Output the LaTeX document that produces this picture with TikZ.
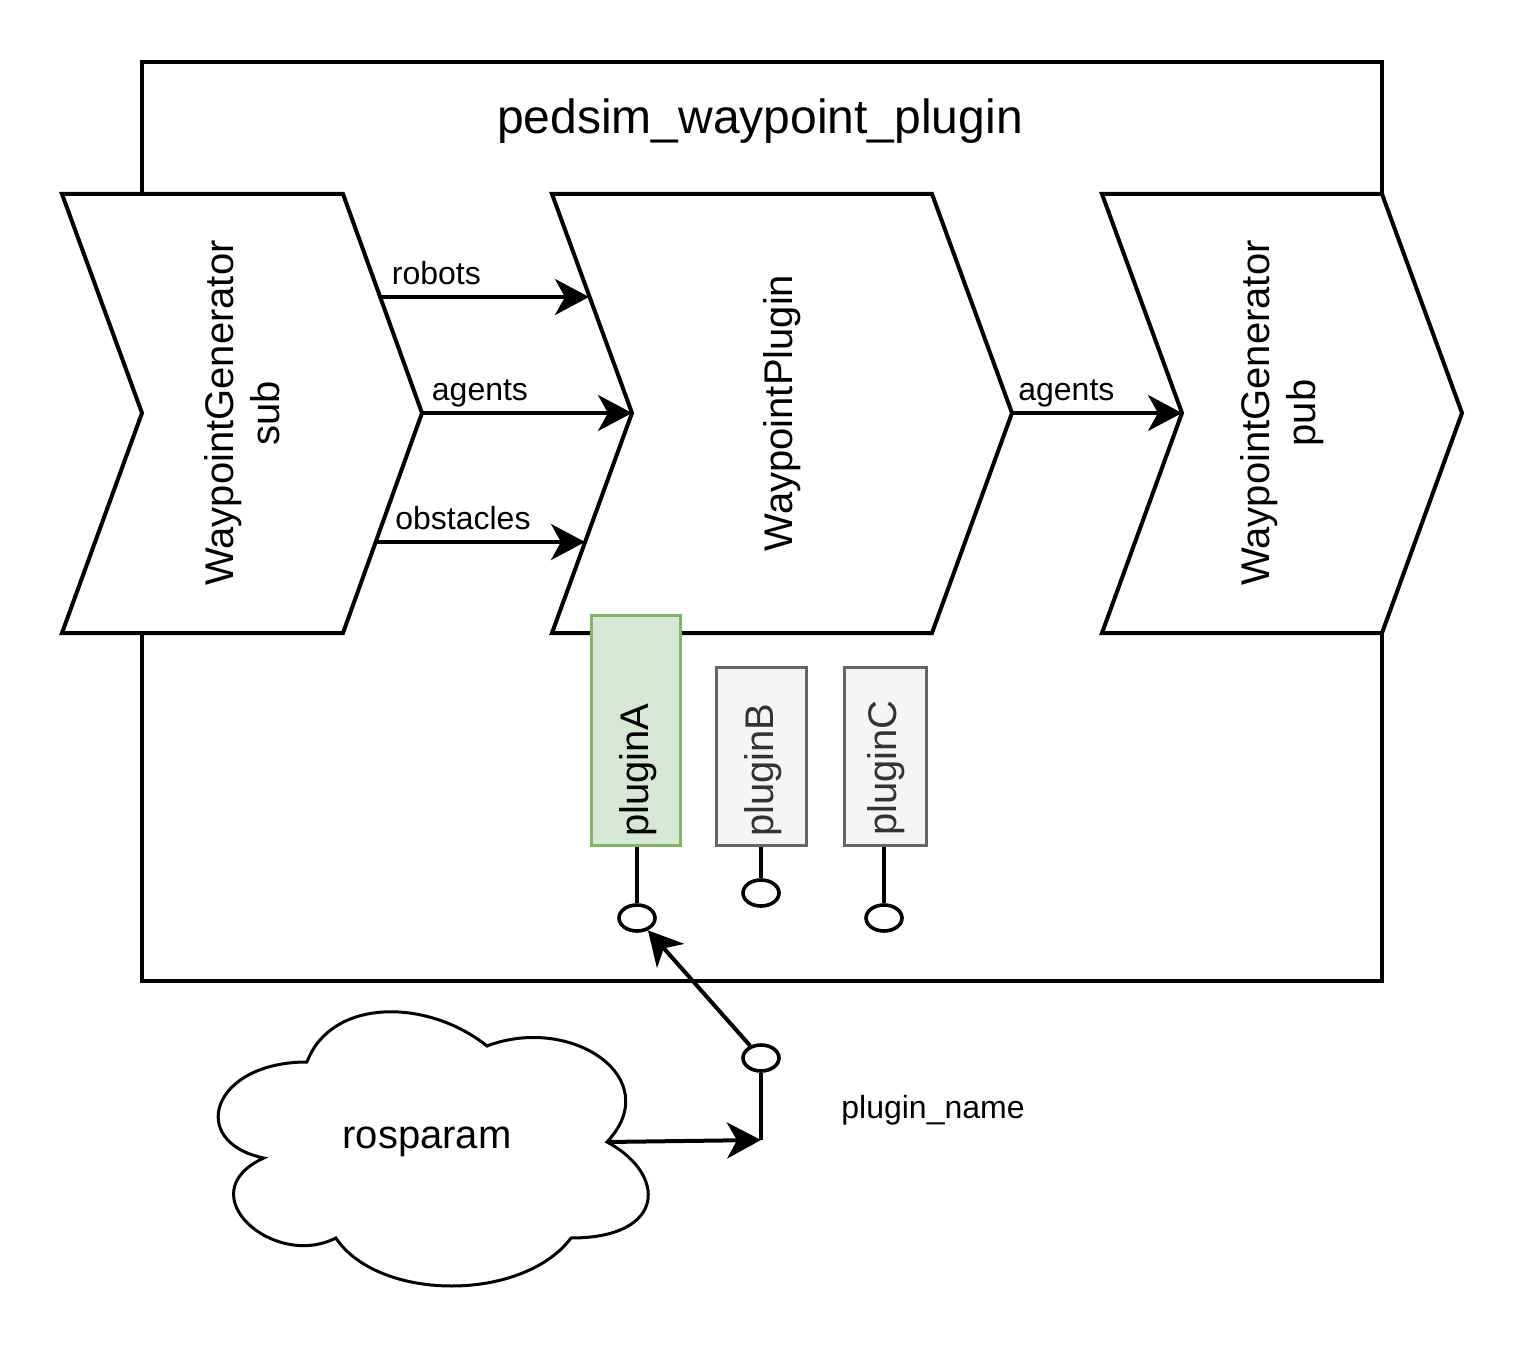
\documentclass[tikz,border=0pt]{standalone}
\usepackage{fontspec}
\setmainfont{Liberation Sans}
\usetikzlibrary{arrows.meta,shapes.geometric}
\definecolor{gfill}{HTML}{D5E8D4}
\definecolor{gline}{HTML}{82B366}
\definecolor{grfill}{HTML}{F5F5F5}
\definecolor{grline}{HTML}{666666}
\definecolor{grtext}{HTML}{333333}
\begin{document}
\begin{tikzpicture}[x=0.5pt,y=-0.5pt, line width=2pt,
  chev/.style={draw, fill=white, line join=miter},
  big/.style={font=\fontsize{20pt}{23pt}\selectfont},
  small/.style={font=\fontsize{16pt}{19pt}\selectfont},
  arr/.style={-{Stealth[length=17pt,width=18pt,inset=5pt]}},
  lolli/.style={ellipse, draw, fill=white, line width=1.8pt, inner sep=0pt, minimum width=18pt, minimum height=13pt},
  plugA/.style={draw=gline, fill=gfill, line width=1.5pt, inner sep=0pt, minimum width=44.5pt},
  plugG/.style={draw=grline, fill=grfill, line width=1.5pt, inner sep=0pt},
  elabel/.style={small, anchor=base, yshift=6pt}
]
\useasboundingbox (0,0) rectangle (1528,1364);
% outer container
\node[draw, inner sep=0pt, minimum width=620pt, minimum height=459.5pt] (outer) at (762,521.5) {};
\node[font=\fontsize{24pt}{28pt}\selectfont] (title) at (760,121) {pedsim\_waypoint\_plugin};
% chevrons
\draw[chev] (62,194) -- (343,194) -- (422,413) -- (343,633) -- (62,633) -- (142,413) -- cycle;
\node[big, rotate=90, align=center] (sub) at (242,413) {WaypointGenerator\\sub};
\draw[chev] (552,194) -- (932,194) -- (1012,413) -- (932,633) -- (552,633) -- (632,413) -- cycle;
\node[big, rotate=90] (wp) at (782,413) {WaypointPlugin};
\draw[chev] (1102,194) -- (1382,194) -- (1462,413) -- (1382,633) -- (1102,633) -- (1182,413) -- cycle;
\node[big, rotate=90, align=center] (pub) at (1282,413) {WaypointGenerator\\pub};
% edge end points
\coordinate (r1) at (380,297); \coordinate (r2) at (589,297);
\coordinate (a1) at (422,413); \coordinate (a2) at (632,413);
\coordinate (o1) at (376,542); \coordinate (o2) at (585,542);
\coordinate (b1) at (1012,413); \coordinate (b2) at (1182,413);
\draw[arr] (r1) -- node[elabel, pos=0.27] (lrob) {robots} (r2);
\draw[arr] (a1) -- node[elabel, pos=0.276] (lag1) {agents} (a2);
\draw[arr] (o1) -- node[elabel, pos=0.416] (lobs) {obstacles} (o2);
\draw[arr] (b1) -- node[elabel, pos=0.32] (lag2) {agents} (b2);
% plugins
\node[plugA, minimum height=115pt] (boxA) at (636,730) {};
\node[big, rotate=90] (pluginA) at (638,770) {pluginA};
\node[plugG, minimum width=45pt, minimum height=89pt] (boxB) at (761,756) {};
\node[big, rotate=90, text=grtext] (pluginB) at (763,770) {pluginB};
\node[plugG, minimum width=41pt, minimum height=89pt] (boxC) at (885,756) {};
\node[big, rotate=90, text=grtext] (pluginC) at (886,768) {pluginC};
% lollipops
\node[lolli] (cA) at (637,918) {};
\node[lolli] (cB) at (761,893) {};
\node[lolli] (cC) at (884,918) {};
\draw (cA |- boxA.south) -- (cA);
\draw (cB |- boxB.south) -- (cB);
\draw (cC |- boxC.south) -- (cC);
\node[lolli] (cL) at (761,1058) {};
\coordinate (j) at (761,1140);
\draw (cL) -- (j);
\draw[arr] (cL) -- (cA);
% cloud
\draw[fill=white, line width=1.5pt] (307,1062)
  .. controls (211,1062) and (187,1142) .. (263.8,1158)
  .. controls (187,1193.2) and (273.4,1270) .. (335.8,1238)
  .. controls (379,1302) and (523,1302) .. (571,1238)
  .. controls (667,1238) and (667,1174) .. (607,1142)
  .. controls (667,1078) and (571,1014) .. (487,1046)
  .. controls (427,998) and (331,998) .. (307,1062) -- cycle;
\node[big] (rosparam) at (427,1142) {rosparam};
\coordinate (cR) at (607,1142);
\draw[arr] (cR) -- (j);
\node[small] (pname) at (933,1110) {plugin\_name};
\end{tikzpicture}
\end{document}
